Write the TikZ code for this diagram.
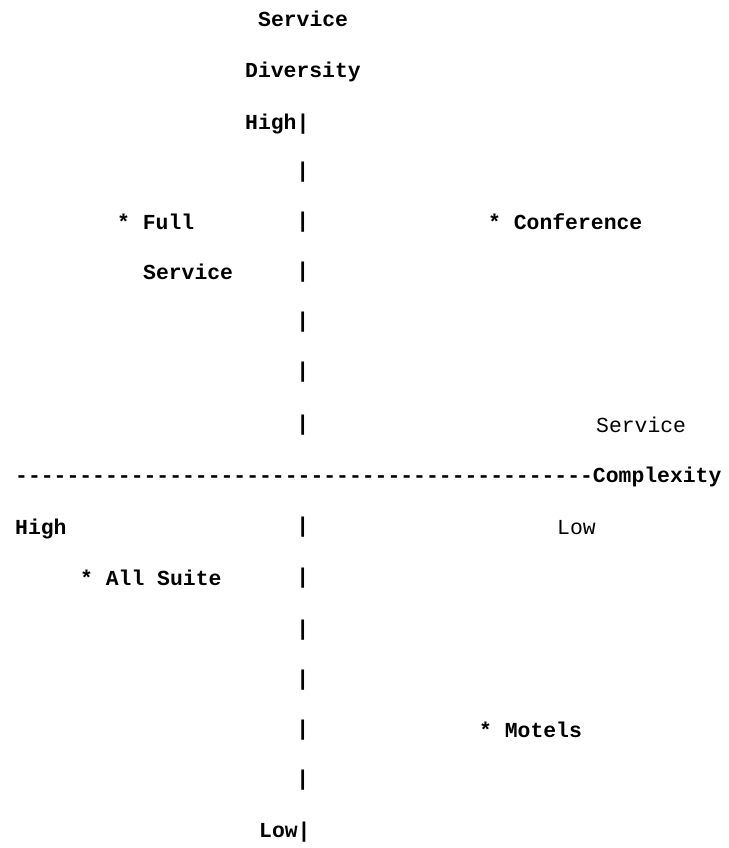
\documentclass[tikz,border=0pt]{standalone}
\usepackage{fontspec}
\setmonofont{Liberation Mono}
\begin{document}
\begin{tikzpicture}[x=1pt,y=-1pt,
  lbl/.style={inner sep=0pt,anchor=base west,font=\ttfamily\bfseries\fontsize{21.4}{24}\selectfont},
  lblr/.style={inner sep=0pt,anchor=base west,font=\ttfamily\fontsize{21.4}{24}\selectfont},
  bar/.style={inner sep=0pt,anchor=center,font=\ttfamily\bfseries\fontsize{21.4}{24}\selectfont}]
\useasboundingbox (0,0) rectangle (728,848);
% vertical axis labels
\node[lbl] (sd1) at (258,27) {Service};
\node[lbl] (sd2) at (245,78) {Diversity};
\node[lbl] (hi) at (245,129) {High|};
% vertical bars
\foreach \y/\n in {172/a1,222/a2,272/a3,322/a4,372/a5,425/a6,527/b1,578/b2,630/b3,680/b4,730/b5,780/b6}
  \node[bar] (\n) at (302.8,\y) {|};
\node[lbl] (lo) at (259,837) {Low|};
% quadrant items
\node[lbl] (fs1) at (117,229) {* Full};
\node[lbl] (fs2) at (143,279) {Service};
\node[lbl] (conf) at (488,229) {* Conference};
\node[lbl] (allsuite) at (80,585) {* All Suite};
\node[lbl] (motels) at (479,737) {* Motels};
% horizontal axis
\node[lblr] (sc1) at (596,432) {Service};
\node[lbl] (axis) at (15,482) {---------------------------------------------Complexity};
\node[lbl] (hh) at (15,534) {High};
\node[lblr] (ll) at (557,534) {Low};
\end{tikzpicture}
\end{document}
